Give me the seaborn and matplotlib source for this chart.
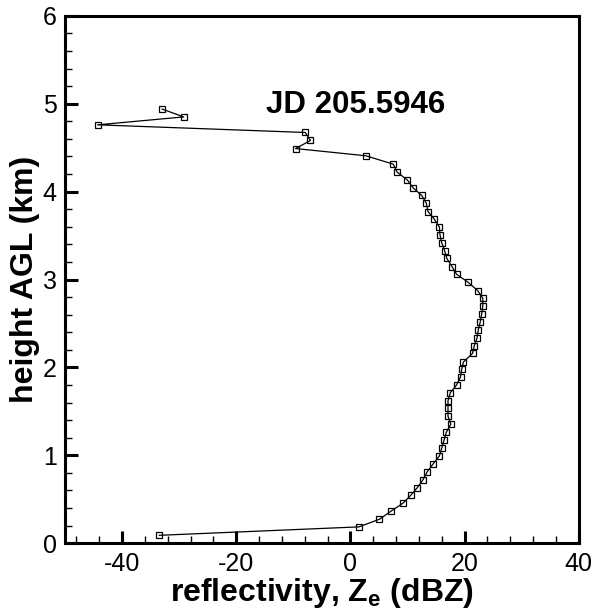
import matplotlib
matplotlib.use("Agg")
import matplotlib.pyplot as plt
from matplotlib.ticker import MultipleLocator
import seaborn as sns
import pandas as pd

# radar profile (bottom to top)
height_km = [0.09, 0.186, 0.273, 0.364, 0.455, 0.547, 0.634, 0.725, 0.812, 0.903,
             0.994, 1.082, 1.170, 1.261, 1.355, 1.446, 1.534, 1.621, 1.712, 1.800,
             1.894, 1.978, 2.061, 2.160, 2.247, 2.335, 2.426, 2.517, 2.608, 2.700,
             2.787, 2.874, 2.970, 3.060, 3.147, 3.240, 3.330, 3.420, 3.508, 3.596,
             3.687, 3.773, 3.869, 3.956, 4.043, 4.131, 4.222, 4.313, 4.408, 4.490,
             4.582, 4.673, 4.760, 4.850, 4.940]
reflectivity_dbz = [-33.5, 1.5, 5.1, 7.1, 9.2, 10.6, 11.75, 12.75, 13.45, 14.5,
                    15.6, 16.0, 16.4, 16.8, 17.6, 17.1, 17.1, 17.1, 17.5, 18.6,
                    19.3, 19.5, 19.8, 21.4, 21.7, 22.2, 22.4, 22.75, 23.0, 23.2,
                    23.2, 22.3, 20.6, 18.6, 17.8, 16.9, 16.5, 16.0, 15.7, 15.6,
                    14.7, 13.6, 13.3, 12.5, 11.0, 10.0, 8.2, 7.5, 2.7, -9.6,
                    -7.0, -7.9, -44.3, -29.2, -33.0]
title_text = "JD 205.5946"

df = pd.DataFrame({"Ze": reflectivity_dbz, "height": height_km})

sns.set_style("ticks")
plt.rcParams["font.family"] = ["Liberation Sans", "DejaVu Sans"]
plt.rcParams["axes.unicode_minus"] = False
plt.rcParams["text.color"] = "black"
plt.rcParams["axes.labelcolor"] = "black"

fig = plt.figure(figsize=(5.96, 6.09), dpi=100)
ax = fig.add_axes([0.109, 0.108, 0.862, 0.866])

sns.lineplot(
    data=df, x="Ze", y="height", sort=False, estimator=None, ax=ax,
    color="black", linewidth=0.9, marker="s", markersize=4,
    markerfacecolor="none", markeredgecolor="black", markeredgewidth=0.9,
)

ax.set_xlim(-50, 40)
ax.set_ylim(0, 6)
ax.xaxis.set_major_locator(MultipleLocator(20))
ax.xaxis.set_minor_locator(MultipleLocator(4))
ax.yaxis.set_major_locator(MultipleLocator(1))
ax.yaxis.set_minor_locator(MultipleLocator(0.2))
ax.tick_params(which="both", direction="in", top=False, right=False,
               colors="black", labelcolor="black", labelsize=18)
ax.tick_params(which="major", length=9, width=2.2, pad=6)
ax.tick_params(which="minor", length=5, width=1)

for s in ax.spines.values():
    s.set_linewidth(2.2)
    s.set_color("black")

ax.set_xlabel("reflectivity, Z$_\\mathregular{e}$ (dBZ)", fontsize=23,
              fontweight="bold", labelpad=0, color="black")
ax.set_ylabel("height AGL (km)", fontsize=23, fontweight="bold", labelpad=2,
              color="black")
ax.text(-14.8, 4.99, title_text, fontsize=22.5, fontweight="bold",
        ha="left", va="center", color="black")

fig.savefig("out.png", dpi=100)
plt.close(fig)
